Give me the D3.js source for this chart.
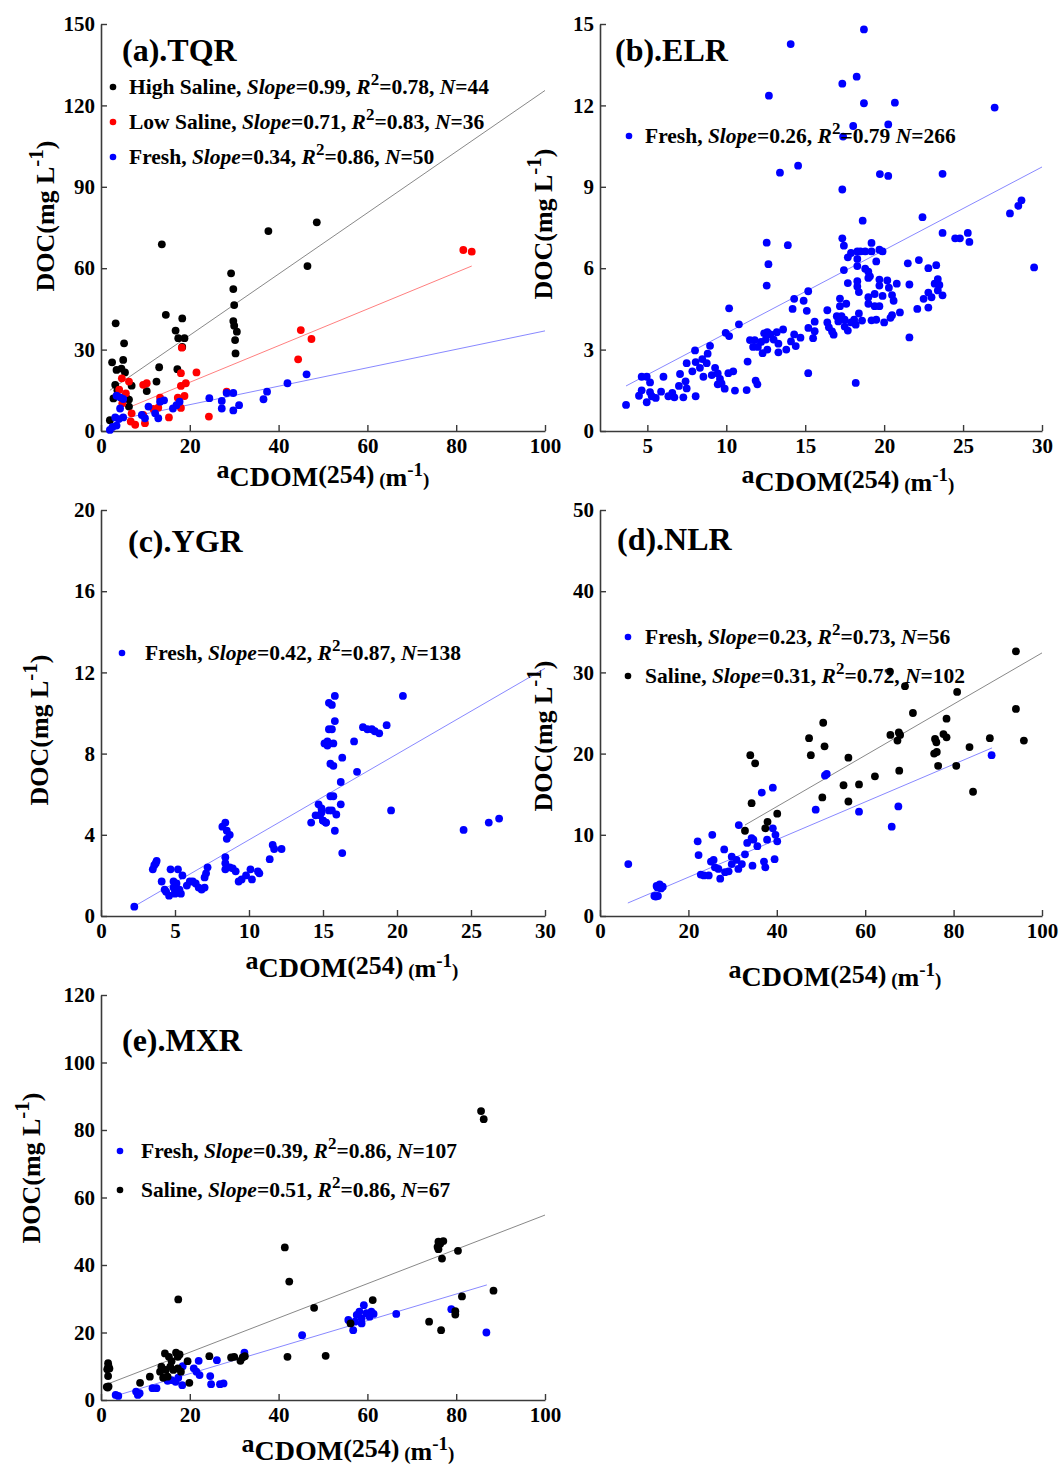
<!DOCTYPE html>
<html>
<head>
<meta charset="utf-8">
<script src="https://cdn.jsdelivr.net/npm/d3@7"></script>
<style>
  body { margin: 0; background: #fff; }
  svg text { font-family: "Liberation Serif", "Times New Roman", serif; font-weight: bold; }
</style>
</head>
<body>
<svg id="chart" width="1060" height="1470"></svg>
<script>
// ---- data (aCDOM(254), DOC) ----
var tqrHighSaline = [[2.0,4.0],[3.3,39.7],[5.2,32.3],[2.5,25.3],[5.0,26.2],[3.5,22.5],[4.6,23],[5.4,21.6],[3.2,17],[6.9,16.7],
  [2.8,12],[6.3,11.6],[6.3,9],[3.7,15],[5.8,12],[12.5,18.2],[10.3,14.7],[13.1,23.5],[13.7,68.8],[14.6,42.8],[16.8,37],[18.3,41.5],
  [17.4,34.2],[18.8,34.2],[18.3,31],[17.2,22.8],[29.3,58.1],[29.8,52.3],[30.0,46.4],[29.8,40.5],[30.0,38.8],[30.6,36.6],
  [30.2,33.5],[30.3,28.6],[37.7,73.7],[48.6,76.9],[46.5,60.8]];
var tqrLowSaline = [[4.7,19.4],[6.3,18.2],[4.1,15.2],[5.6,13.9],[4.8,10.2],[6.9,6.5],[6.7,3.5],[7.7,2.3],[9.5,5.9],[9.9,2.9],
  [9.5,17],[10.3,17.6],[11.8,8.1],[12.9,8.6],[13.3,12.3],[18.0,21.3],[18.0,16.6],[19.1,17.6],[17.3,12.3],[18.8,12.9],[18.2,30.7],
  [21.5,21.6],[24.3,5.3],[28.3,14.5],[45.0,37.2],[44.4,26.4],[47.4,33.9],[81.6,66.7],[83.5,66.1],[15.3,5],[18.0,8.5]];
var tqrFresh = [[2.0,0.4],[3.5,13],[4.3,12.4],[5.0,11.8],[3.2,5],[4.0,4.4],[5.0,5],[3.5,2],[4.3,8.3],[2.6,1.5],[9.2,5.9],[9.9,4.7],
  [10.7,9],[12.2,6.5],[12.9,4.7],[13.3,10.8],[14.2,11.3],[16.2,8.3],[17.0,9.5],[17.7,10.8],[24.4,12.1],[27.2,11.1],[27.2,8.3],
  [28.3,14],[29.8,14],[29.8,7.6],[31.1,9.5],[36.6,11.7],[37.4,14.5],[42.0,17.6],[46.3,20.9]];
var tqrHighFit = [[2,15],[100,125.5]];
var tqrLowFit = [[6,8.5],[83.5,60.8]];
var tqrFreshFit = [[3.2,4],[100,36.9]];

var elrFresh = [[3.65,0.96],[4.64,2.0],[4.96,2.0],[5.17,1.79],[4.64,1.5],[4.47,1.3],[4.96,1.06],[5.28,1.28],[5.53,1.22],[5.17,1.43],
  [5.87,1.45],[6.02,2.0],[6.33,1.28],[6.58,1.4],[6.71,1.24],[7.07,2.1],[7.0,1.66],[7.28,1.24],[7.42,1.83],[7.49,1.57],[7.49,2.5],
  [7.85,2.2],[8.06,2.54],[8.02,2.97],[8.06,1.28],[8.33,2.33],[8.48,2.65],[8.55,2.0],[8.76,2.5],[8.82,2.85],[8.97,3.14],[9.08,2.06],
  [9.29,2.33],[9.46,2.12],[9.6,1.92],[9.7,1.75],[9.46,1.72],[9.9,1.56],[10.13,2.13],[10.44,2.2],[10.55,1.49],[9.96,3.62],[10.18,3.5],
  [10.18,4.52],[10.8,3.93],[11.29,1.51],[11.35,2.56],[11.86,1.86],[11.97,1.72],[11.5,3.35],[11.7,3.1],[11.8,3.35],[12.0,3.1],
  [12.2,3.28],[12.4,3.6],[12.5,3.37],[12.6,3.64],[12.3,2.87],[12.6,3.0],[12.8,3.56],[13.0,3.37],[13.2,3.64],[13.3,3.22],[13.3,2.9],
  [13.6,3.74],[13.8,3.0],[14.1,3.3],[14.3,3.56],[14.4,3.13],[14.7,3.44],[14.2,4.5],[14.3,4.87],[14.9,4.8],[15.1,4.43],[15.2,3.8],
  [15.5,3.42],[15.6,3.68],[15.6,4.03],[15.19,2.13],[15.19,5.15],[12.56,5.36],[12.67,6.15],[12.56,6.94],[13.9,6.85],[13.4,9.52],
  [14.55,9.78],[12.7,12.36],[14.08,14.26],[18.72,14.8],[17.35,12.8],[18.26,13.06],[18.72,12.08],[20.68,12.1],[18.04,11.24],
  [17.4,10.85],[20.26,11.3],[27.0,11.92],[19.73,9.47],[20.26,9.4],[23.7,9.48],[17.35,8.9],[18.64,7.75],[22.43,7.88],[27.97,8.02],
  [28.5,8.3],[28.7,8.5],[29.5,6.03],[23.7,7.3],[24.5,7.1],[24.8,7.1],[25.3,7.3],[25.4,6.97],[17.35,7.1],[17.45,6.83],[17.45,5.93],
  [17.7,6.4],[17.9,6.56],[18.3,6.62],[18.5,6.62],[18.8,6.62],[19.2,6.93],[19.2,6.62],[19.7,6.68],[19.9,6.62],[18.3,6.34],[18.3,6.08],
  [18.8,5.98],[19.0,5.87],[19.5,6.25],[19.1,5.7],[19.0,5.64],[17.7,5.45],[18.3,5.52],[18.3,5.33],[18.4,5.12],[19.7,5.58],[19.7,5.36],
  [20.2,5.55],[20.3,5.28],[20.8,5.43],[19.4,5.05],[19.0,4.93],[19.9,4.98],[20.5,5.01],[20.6,4.8],[19.7,4.6],[19.4,4.6],[19.0,4.69],
  [17.2,4.88],[17.2,4.6],[17.6,4.69],[16.4,4.45],[16.4,4.0],[16.5,3.82],[16.7,3.67],[16.8,3.55],[17.0,4.23],[17.1,4.04],[17.3,4.23],
  [17.5,4.1],[17.7,3.7],[17.5,3.85],[17.9,4.0],[18.1,4.1],[18.2,3.92],[18.4,4.33],[18.6,4.07],[19.2,4.08],[19.5,4.1],[20.0,4.0],
  [20.4,4.17],[20.5,4.27],[21.0,4.37],[21.5,6.18],[21.6,5.4],[22.2,6.3],[22.1,4.5],[22.8,4.55],[22.8,6.0],[23.3,6.11],[23.4,5.6],
  [23.5,5.38],[23.2,5.43],[23.4,5.18],[23.7,5.0],[23.0,4.93],[22.8,5.1],[22.5,4.87],[21.6,3.45],[18.2,1.77]];
var elrFit = [[3.65,1.66],[30,9.73]];

var ygrFresh = [[2.25,0.46],[3.76,2.72],[3.7,2.6],[3.6,2.5],[3.5,2.3],[4.1,1.7],[4.3,1.3],[4.6,1.0],[4.7,2.3],[4.9,1.7],[4.9,1.4],
  [5.0,1.2],[5.1,1.6],[5.2,2.3],[5.3,1.3],[5.4,1.1],[5.5,2.0],[5.8,1.5],[6.0,1.7],[6.2,1.7],[6.4,1.6],[6.6,1.4],[6.8,1.3],[7.0,1.4],
  [7.0,1.9],[7.1,2.1],[7.2,2.4],[4.4,1.2],[5.0,1.1],[8.2,4.4],[8.4,4.6],[8.5,4.2],[8.7,4.0],[8.5,3.8],[8.4,2.9],[8.4,2.6],[8.4,2.3],
  [8.7,2.4],[8.9,2.35],[9.1,2.2],[9.3,1.7],[9.5,1.8],[9.8,2.0],[10.1,2.3],[10.2,1.8],[10.6,2.2],[10.7,2.1],[11.4,2.8],[11.6,3.5],
  [11.7,3.3],[12.2,3.3],[14.2,4.6],[14.5,4.96],[14.7,5.5],[14.9,5.1],[15.0,4.7],[15.2,4.6],[15.4,5.2],[15.5,5.9],[15.1,8.5],[15.3,8.6],
  [15.4,9.2],[15.4,10.5],[15.5,7.5],[15.8,10.84],[15.6,10.4],[15.8,9.6],[15.6,9.2],[15.7,8.5],[15.3,8.4],[16.3,7.8],[15.7,7.4],
  [16.2,6.6],[15.7,5.9],[16.2,5.5],[14.9,5.3],[15.6,5.2],[15.9,5.0],[14.8,4.96],[15.0,4.7],[15.2,4.6],[15.8,4.2],[16.3,3.1],
  [17.1,8.6],[17.3,7.1],[17.7,9.3],[18.0,9.2],[18.3,9.2],[18.5,9.1],[18.8,9.0],[19.3,9.4],[19.6,5.2],[20.4,10.84],[24.5,4.24],
  [26.2,4.6],[26.9,4.8]];
var ygrFit = [[2.3,0.5],[30,12.2]];

var nlrFresh = [[6.4,6.4],[12.3,2.46],[12.6,2.4],[13.1,2.46],[12.8,3.7],[13.0,3.5],[13.5,3.9],[13.8,3.4],[14.2,3.6],[22.1,9.2],
  [22.3,7.5],[22.8,5.1],[23.5,5.0],[24.6,5.0],[25.4,10.0],[25.1,6.7],[25.7,6.9],[26.0,6.0],[26.8,5.8],[27.2,4.6],[28.1,8.2],[28.3,5.4],
  [29.1,5.5],[29.8,7.3],[29.8,6.4],[30.9,6.9],[31.3,5.8],[32.1,6.4],[32.8,7.6],[33.3,9.0],[31.4,11.2],[34.3,9.6],[34.5,6.2],[34.7,9.4],
  [35.6,8.6],[36.6,15.2],[37.1,6.7],[37.4,6.0],[37.8,9.4],[39.1,15.8],[39.1,10.8],[39.7,10.0],[39.5,7.0],[40.1,9.2],[48.8,13.1],
  [50.9,17.3],[51.3,17.5],[58.6,12.85],[67.5,13.5],[66.0,11.0],[88.6,19.8]];
var nlrSaline = [[32.8,10.5],[34.3,13.9],[34.0,19.8],[35.1,18.8],[37.4,10.8],[37.9,11.6],[40.1,12.6],[47.3,21.9],[47.7,19.8],
  [50.5,23.8],[50.8,20.9],[50.3,14.6],[56.2,19.5],[55.1,16.1],[56.2,14.1],[58.6,16.2],[62.2,17.2],[65.6,30.1],[69.0,28.3],
  [70.8,25.0],[65.7,22.3],[67.6,22.6],[67.9,22.3],[67.3,21.6],[67.7,17.9],[80.8,27.6],[78.4,24.3],[75.8,21.8],[76.1,21.4],
  [77.7,22.4],[78.4,22.0],[75.6,20.0],[76.2,20.2],[76.5,18.5],[80.6,18.5],[83.6,20.8],[84.4,15.3],[88.2,21.9],[94.1,32.6],
  [94.1,25.5],[95.9,21.6]];
var nlrFreshFit = [[6.3,1.6],[88.7,20.7]];
var nlrSalineFit = [[32.8,11.2],[100,32.4]];

var mxrFresh = [[3.3,1.5],[3.9,1.2],[8.3,1.5],[8.7,2.0],[7.9,2.5],[11.6,3.5],[12.5,3.5],[15.0,5.7],[15.9,5.9],[16.8,5.4],[17.4,6.6],
  [18.3,4.4],[18.4,10.0],[20.9,9.4],[21.5,8.4],[22.0,11.6],[22.2,7.4],[24.6,7.1],[24.8,4.7],[26.1,11.8],[26.8,4.7],[27.6,4.9],
  [32.3,14.0],[45.3,19.2],[55.7,23.7],[56.8,20.7],[57.2,23.2],[57.6,25.2],[58.2,26.2],[58.7,24.2],[59.2,28.1],[59.8,25.7],
  [60.5,24.7],[60.9,26.2],[61.4,25.5],[58.7,22.7],[66.5,25.5],[78.9,26.9],[86.8,20.0]];
var mxrSaline = [[1.3,3.9],[1.5,3.7],[1.7,4.0],[1.4,9.1],[1.6,10.9],[1.6,9.6],[1.6,7.1],[1.7,10.0],[1.9,9.3],[8.8,5.1],[11.0,6.9],
  [13.3,8.4],[13.6,9.9],[14.0,6.6],[14.4,13.8],[14.6,8.9],[15.0,6.9],[15.3,12.8],[15.6,9.9],[15.9,11.5],[16.3,8.9],[16.9,14.0],
  [17.3,12.8],[17.3,9.4],[17.7,13.5],[18.0,8.4],[17.4,29.8],[19.5,11.5],[19.9,5.1],[24.4,13.0],[29.3,12.6],[30.0,12.8],[31.4,11.6],
  [31.9,12.6],[32.4,13.0],[41.4,45.2],[42.4,35.1],[42.0,12.8],[48.0,27.3],[50.6,13.1],[61.2,29.6],[56.2,22.7],[76.0,46.9],
  [76.4,46.3],[75.8,45.4],[77.1,47.1],[76.0,44.7],[76.8,41.9],[80.4,44.2],[73.9,23.2],[76.6,20.7],[79.8,25.3],[79.8,26.3],
  [81.3,30.7],[88.4,32.4],[85.6,85.6],[86.2,83.2]];
var mxrFreshFit = [[3.2,1.2],[86.9,34.1]];
var mxrSalineFit = [[2,5],[100,54.8]];

// legend texts: [name, slope, r2, n]
var tqrLegend = [["High Saline", "0.99", "0.78", "44"], ["Low Saline", "0.71", "0.83", "36"], ["Fresh", "0.34", "0.86", "50"]];
var elrLegend = [["Fresh", "0.26", "0.79", "266"]];
var ygrLegend = [["Fresh", "0.42", "0.87", "138"]];
var nlrLegend = [["Fresh", "0.23", "0.73", "56"], ["Saline", "0.31", "0.72", "102"]];
var mxrLegend = [["Fresh", "0.39", "0.86", "107"], ["Saline", "0.51", "0.86", "67"]];

var svg = d3.select('#chart');
var FILL = {black: '#000000', red: '#ff0000', blue: '#0000ff'};
var FIT = {black: '#7a7a7a', red: '#ff7070', blue: '#7a7aff'};

function drawPanel(p) {
    var x = d3.scaleLinear().domain(p.xDomain).range([p.left, p.right]);
    var y = d3.scaleLinear().domain(p.yDomain).range([p.bottom, p.top]);
    var g = svg.append('g');

    var xAxis = d3.axisBottom(x).tickValues(p.xTicks).tickSizeInner(-6).tickSizeOuter(0).tickPadding(7);
    var yAxis = d3.axisLeft(y).tickValues(p.yTicks).tickSizeInner(-6).tickSizeOuter(0).tickPadding(6);

    var gx = g.append('g').attr('transform', 'translate(0,' + p.bottom + ')').call(xAxis);
    var gy = g.append('g').attr('transform', 'translate(' + p.left + ',0)').call(yAxis);
    [gx, gy].forEach(function(a) {
        a.select('.domain').attr('stroke', '#3a3a3a').attr('stroke-width', 1.6);
        a.selectAll('.tick line').attr('stroke', '#3a3a3a').attr('stroke-width', 1.4);
        a.selectAll('.tick text').attr('font-size', 21).attr('fill', '#000')
            .style('font-family', '"Liberation Serif", serif').style('font-weight', 'bold');
    });

    // fitted lines under the points
    p.fits.forEach(function(f) {
        g.append('line')
            .attr('x1', x(f.pts[0][0])).attr('y1', y(f.pts[0][1]))
            .attr('x2', x(f.pts[1][0])).attr('y2', y(f.pts[1][1]))
            .attr('stroke', FIT[f.color]).attr('stroke-width', 0.9);
    });

    p.series.forEach(function(s) {
        g.append('g').selectAll('circle').data(s.data).join('circle')
            .attr('cx', function(d) { return x(d[0]); })
            .attr('cy', function(d) { return y(d[1]); })
            .attr('r', 3.9)
            .attr('fill', FILL[s.color]);
    });

    // panel title
    g.append('text').attr('x', p.title[1]).attr('y', p.title[2])
        .attr('font-size', 32).text(p.title[0]);

    // legend
    p.legend.rows.forEach(function(r, i) {
        var cy = p.legend.y + i * p.legend.gap;
        g.append('circle').attr('cx', p.legend.dotX).attr('cy', cy).attr('r', 3.3).attr('fill', FILL[p.legend.colors[i]]);
        var t = g.append('text').attr('x', p.legend.textX).attr('y', cy + 7).attr('font-size', 21.5);
        t.append('tspan').text(r[0] + ', ');
        t.append('tspan').attr('font-style', 'italic').text('Slope');
        t.append('tspan').text('=' + r[1] + ', ');
        t.append('tspan').attr('font-style', 'italic').text('R');
        t.append('tspan').attr('font-size', 17).attr('dy', -9).text('2');
        t.append('tspan').attr('dy', 9).text('=' + r[2] + (p.legend.noComma ? ' ' : ', '));
        t.append('tspan').attr('font-style', 'italic').text('N');
        t.append('tspan').text('=' + r[3]);
    });

    // y title
    var yt = g.append('text')
        .attr('transform', 'translate(' + p.yTitle[0] + ',' + p.yTitle[1] + ') rotate(-90)')
        .attr('text-anchor', 'middle').attr('font-size', 26);
    yt.append('tspan').text('DOC(mg L');
    yt.append('tspan').attr('font-size', 21).attr('dy', -11).text('-1');
    yt.append('tspan').attr('dy', 11).text(')');

    // x title
    var xt = g.append('text').attr('x', p.xTitle[0]).attr('y', p.xTitle[1])
        .attr('text-anchor', 'middle').attr('font-size', 26);
    xt.append('tspan').attr('dy', -8).text('a');
    xt.append('tspan').attr('font-size', 28).attr('dy', 8).text('CDOM');
    xt.append('tspan').attr('dy', -3).text('(254)');
    xt.append('tspan').attr('font-size', 19).attr('dy', 3).text(' (');
    xt.append('tspan').text('m');
    xt.append('tspan').attr('font-size', 19).attr('dy', -10).text('-1');
    xt.append('tspan').attr('font-size', 19).attr('dy', 10).text(')');
}

drawPanel({
    left: 101, right: 545, top: 24, bottom: 431,
    xDomain: [0, 100], yDomain: [0, 150],
    xTicks: [0, 20, 40, 60, 80, 100], yTicks: [0, 30, 60, 90, 120, 150],
    series: [{data: tqrHighSaline, color: 'black'}, {data: tqrLowSaline, color: 'red'}, {data: tqrFresh, color: 'blue'}],
    fits: [{pts: tqrHighFit, color: 'black'}, {pts: tqrLowFit, color: 'red'}, {pts: tqrFreshFit, color: 'blue'}],
    title: ['(a).TQR', 122, 61],
    legend: {rows: tqrLegend, colors: ['black', 'red', 'blue'], dotX: 113, textX: 129, y: 87, gap: 35},
    yTitle: [54, 216], xTitle: [323, 486]
});

drawPanel({
    left: 600, right: 1042, top: 24, bottom: 431,
    xDomain: [2, 30], yDomain: [0, 15],
    xTicks: [5, 10, 15, 20, 25, 30], yTicks: [0, 3, 6, 9, 12, 15],
    series: [{data: elrFresh, color: 'blue'}],
    fits: [{pts: elrFit, color: 'blue'}],
    title: ['(b).ELR', 615, 61],
    legend: {rows: elrLegend, colors: ['blue'], dotX: 629, textX: 645, y: 136, gap: 35, noComma: true},
    yTitle: [552, 224], xTitle: [848, 491]
});

drawPanel({
    left: 101, right: 545, top: 510, bottom: 916,
    xDomain: [0, 30], yDomain: [0, 20],
    xTicks: [0, 5, 10, 15, 20, 25, 30], yTicks: [0, 4, 8, 12, 16, 20],
    series: [{data: ygrFresh, color: 'blue'}],
    fits: [{pts: ygrFit, color: 'blue'}],
    title: ['(c).YGR', 128, 552],
    legend: {rows: ygrLegend, colors: ['blue'], dotX: 122, textX: 145, y: 653, gap: 35},
    yTitle: [48, 730], xTitle: [352, 977]
});

drawPanel({
    left: 600, right: 1042, top: 510, bottom: 916,
    xDomain: [0, 100], yDomain: [0, 50],
    xTicks: [0, 20, 40, 60, 80, 100], yTicks: [0, 10, 20, 30, 40, 50],
    series: [{data: nlrFresh, color: 'blue'}, {data: nlrSaline, color: 'black'}],
    fits: [{pts: nlrFreshFit, color: 'blue'}, {pts: nlrSalineFit, color: 'black'}],
    title: ['(d).NLR', 617, 550],
    legend: {rows: nlrLegend, colors: ['blue', 'black'], dotX: 628, textX: 645, y: 637, gap: 39},
    yTitle: [552, 736], xTitle: [835, 986]
});

drawPanel({
    left: 101, right: 545, top: 995, bottom: 1400,
    xDomain: [0, 100], yDomain: [0, 120],
    xTicks: [0, 20, 40, 60, 80, 100], yTicks: [0, 20, 40, 60, 80, 100, 120],
    series: [{data: mxrFresh, color: 'blue'}, {data: mxrSaline, color: 'black'}],
    fits: [{pts: mxrFreshFit, color: 'blue'}, {pts: mxrSalineFit, color: 'black'}],
    title: ['(e).MXR', 122, 1051],
    legend: {rows: mxrLegend, colors: ['blue', 'black'], dotX: 120, textX: 141, y: 1151, gap: 39},
    yTitle: [40, 1168], xTitle: [348, 1460]
});
</script>
</body>
</html>
